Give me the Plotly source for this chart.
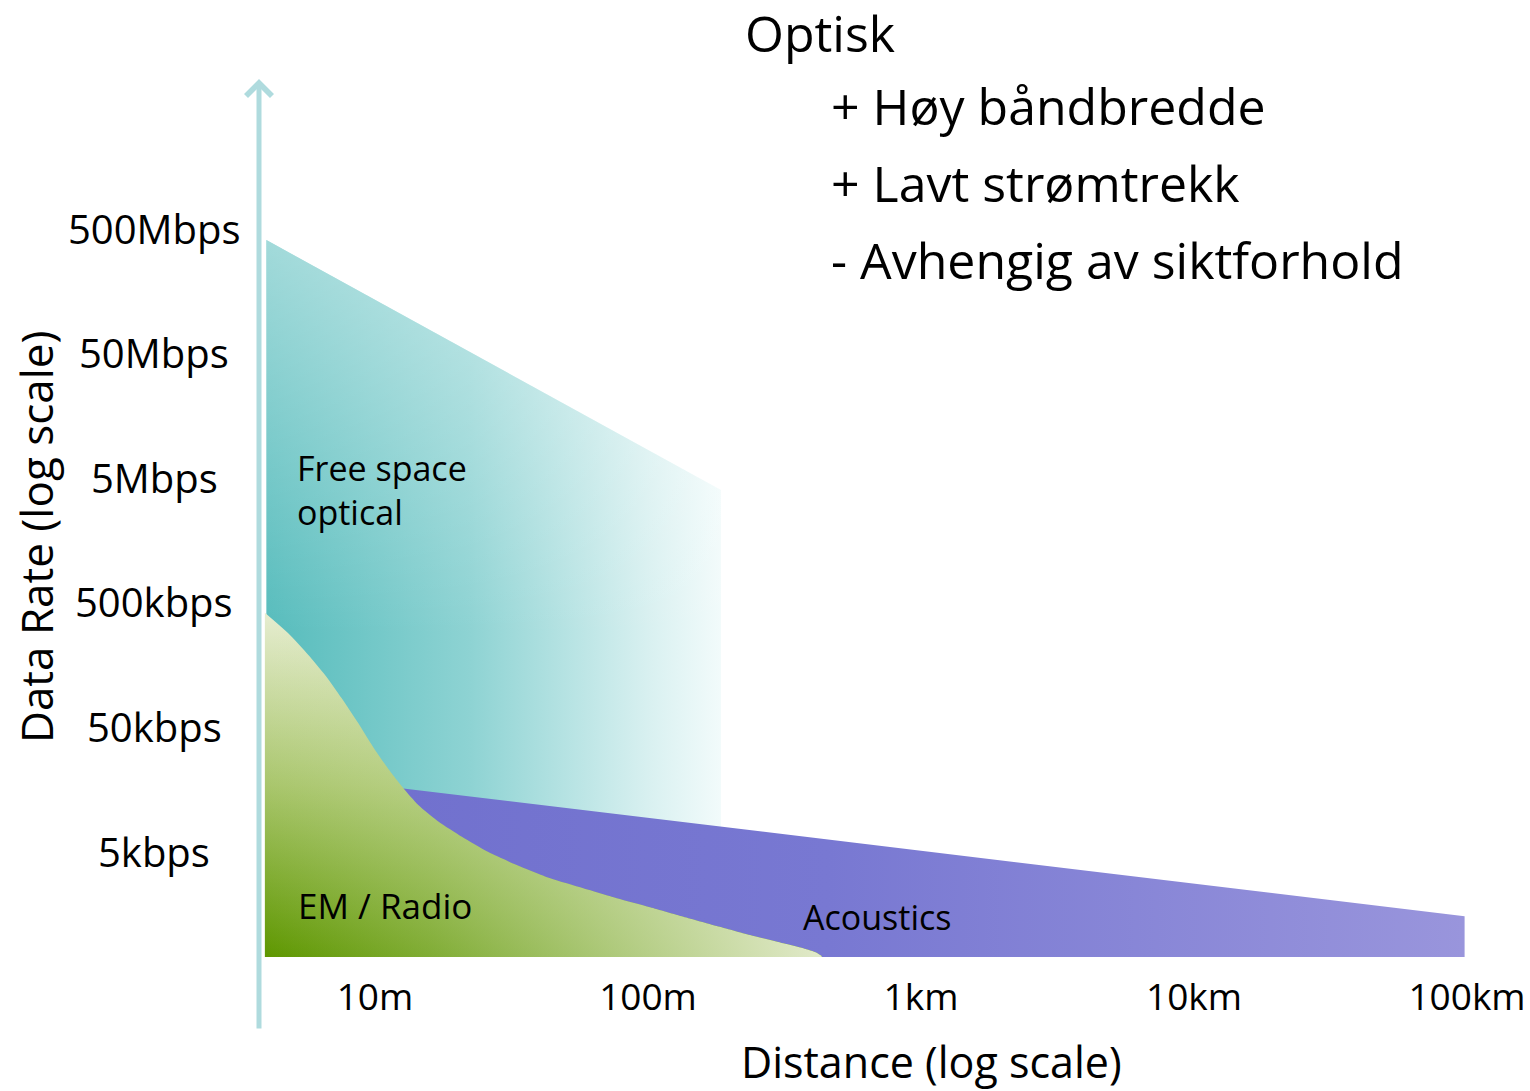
import numpy as np
import plotly.graph_objects as go

# ---------------- data (distance in metres, data rate in bit/s) ----------------
baseline_rate = 705

fso_dist = [4, 4, 185, 185]
fso_rate = [baseline_rate, 4.0e8, 3.95e6, baseline_rate]

em_dist = [3.95, 4.81, 5.70, 6.56, 7.55, 8.69, 10.0, 11.5, 12.7, 14.4, 17.1, 20.8,
           26.0, 33.0, 43.8, 57.9, 76.8, 101.7, 134.7, 178.5, 236.4, 313.0, 370.6,
           414.9, 432.8]
em_rate = [408.8e3, 279.5e3, 187.1e3, 129.3e3, 84.0e3, 52.9e3, 32.3e3, 21.0e3,
           15.93e3, 11.70e3, 8.59e3, 6.51e3, 4.90e3, 3.86e3, 3.02e3, 2.51e3, 2.09e3,
           1.77e3, 1.485e3, 1.251e3, 1.059e3, 908, 828, 763, 718]
em_base_dist = [3.95, 432.8]

ac_dist = [12.7, 98000, 98000, 12.7]
ac_rate = [15.9e3, 1.5e3, baseline_rate, baseline_rate]

x_tick_vals = [10, 100, 1000, 10000, 100000]
x_tick_text = ["10m", "100m", "1km", "10km", "100km"]
y_tick_vals = [5e8, 5e7, 5e6, 5e5, 5e4, 5e3]
y_tick_text = ["500Mbps", "50Mbps", "5Mbps", "500kbps", "50kbps", "5kbps"]

title_text = "Optisk"
points_text = ["+ Høy båndbredde", "+ Lavt strømtrekk", "- Avhengig av siktforhold"]

# ---------------- layout geometry ----------------
W, H = 1530, 1091
L, R, T, B = 259, 30, 60, 131
PW, PH = W - L - R, H - T - B
FONT = "Open Sans"


def px(xp):
    return (xp - L) / PW


def py(yp):
    return (H - B - yp) / PH


fig = go.Figure()

# Free space optical
fig.add_trace(go.Scatter(
    x=fso_dist, y=fso_rate, mode="lines", fill="toself", line=dict(width=0),
    fillgradient=dict(type="horizontal", colorscale=[
        [0, "rgb(86,188,188)"], [0.45, "rgb(142,211,211)"],
        [0.85, "rgb(218,241,241)"], [1, "rgb(242,251,251)"]]),
    hoverinfo="skip"))
fig.add_trace(go.Scatter(
    x=fso_dist, y=fso_rate, mode="lines", fill="toself", line=dict(width=0),
    fillgradient=dict(type="vertical", colorscale=[
        [0, "rgba(255,255,255,0)"], [0.45, "rgba(255,255,255,0)"],
        [1, "rgba(255,255,255,0.45)"]]),
    hoverinfo="skip"))

# Acoustics
fig.add_trace(go.Scatter(
    x=ac_dist, y=ac_rate, mode="lines", fill="toself", line=dict(width=0),
    fillgradient=dict(type="horizontal", colorscale=[
        [0, "rgb(113,113,206)"], [0.4, "rgb(120,120,210)"], [1, "rgb(153,149,220)"]]),
    hoverinfo="skip"))

# EM / Radio (two layers: vertical + horizontal)
for grad in [
    dict(type="vertical", colorscale=[[0, "rgb(94,151,0)"], [0.5, "rgb(169,198,108)"],
                                      [1, "rgb(230,237,208)"]]),
    dict(type="horizontal", colorscale=[[0, "rgba(232,238,212,0)"],
                                        [0.3, "rgba(232,238,212,0.25)"],
                                        [1, "rgba(232,238,212,0.95)"]]),
]:
    fig.add_trace(go.Scatter(x=em_base_dist, y=[baseline_rate] * 2, mode="lines",
                             line=dict(width=0), hoverinfo="skip"))
    fig.add_trace(go.Scatter(x=em_dist, y=em_rate, mode="lines", fill="tonexty",
                             line=dict(width=0, shape="spline", smoothing=0.6),
                             fillgradient=grad, hoverinfo="skip"))

ann = []
# vertical axis arrow
ann.append(dict(xref="paper", yref="paper", x=px(259), y=py(79), ax=0, ay=951,
                axref="pixel", ayref="pixel", showarrow=True, arrowhead=4,
                arrowsize=1.0, arrowwidth=5, arrowcolor="#afdbde", text=""))
# y tick labels
for v, t in zip(y_tick_vals, y_tick_text):
    ann.append(dict(xref="paper", yref="y", x=px(154), y=np.log10(v), text=t,
                    showarrow=False, xanchor="center", yanchor="middle",
                    font=dict(family=FONT, size=40, color="black")))
# axis titles
ann.append(dict(xref="paper", yref="paper", x=px(36), y=py(537), text="Data Rate (log scale)",
                textangle=-90, showarrow=False, xanchor="center", yanchor="middle",
                font=dict(family=FONT, size=44, color="black")))
ann.append(dict(xref="paper", yref="paper", x=px(932), y=py(1061), text="Distance (log scale)",
                showarrow=False, xanchor="center", yanchor="middle",
                font=dict(family=FONT, size=43, color="black")))
# title block
ann.append(dict(xref="paper", yref="paper", x=px(743), y=py(33), text=title_text,
                showarrow=False, xanchor="left", yanchor="middle",
                font=dict(family=FONT, size=50, color="black")))
for yy, t in zip([106, 183, 260], points_text):
    ann.append(dict(xref="paper", yref="paper", x=px(829), y=py(yy), text=t,
                    showarrow=False, xanchor="left", yanchor="middle",
                    font=dict(family=FONT, size=50, color="black")))
# region labels
ann.append(dict(xref="paper", yref="paper", x=px(295), y=py(490), text="Free space<br>optical",
                showarrow=False, xanchor="left", yanchor="middle", align="left",
                font=dict(family=FONT, size=34, color="black")))
ann.append(dict(xref="paper", yref="paper", x=px(296), y=py(905), text="EM / Radio",
                showarrow=False, xanchor="left", yanchor="middle",
                font=dict(family=FONT, size=35, color="black")))
ann.append(dict(xref="paper", yref="paper", x=px(801), y=py(917), text="Acoustics",
                showarrow=False, xanchor="left", yanchor="middle",
                font=dict(family=FONT, size=34, color="black")))

x_lo = 1 + (L - 375) / 273
x_hi = 1 + (W - R - 375) / 273
y_lo = np.log10(5e3) - (H - B - 851) / 124.6
y_hi = np.log10(5e3) + (851 - T) / 124.6

fig.update_layout(
    template="none",
    width=W, height=H, margin=dict(l=L, r=R, t=T, b=B, pad=0),
    paper_bgcolor="white", plot_bgcolor="white", showlegend=False,
    hovermode=False, annotations=ann,
    xaxis=dict(type="log", range=[x_lo, x_hi], tickvals=x_tick_vals, ticktext=x_tick_text,
               showgrid=False, zeroline=False, showline=False, ticks="", ticklen=0,
               ticklabelstandoff=12, automargin=False,
               tickfont=dict(family=FONT, size=37, color="black")),
    yaxis=dict(type="log", range=[y_lo, y_hi], showgrid=False, zeroline=False,
               showline=False, showticklabels=False, ticks="", automargin=False),
)

fig.write_html("out.html")
